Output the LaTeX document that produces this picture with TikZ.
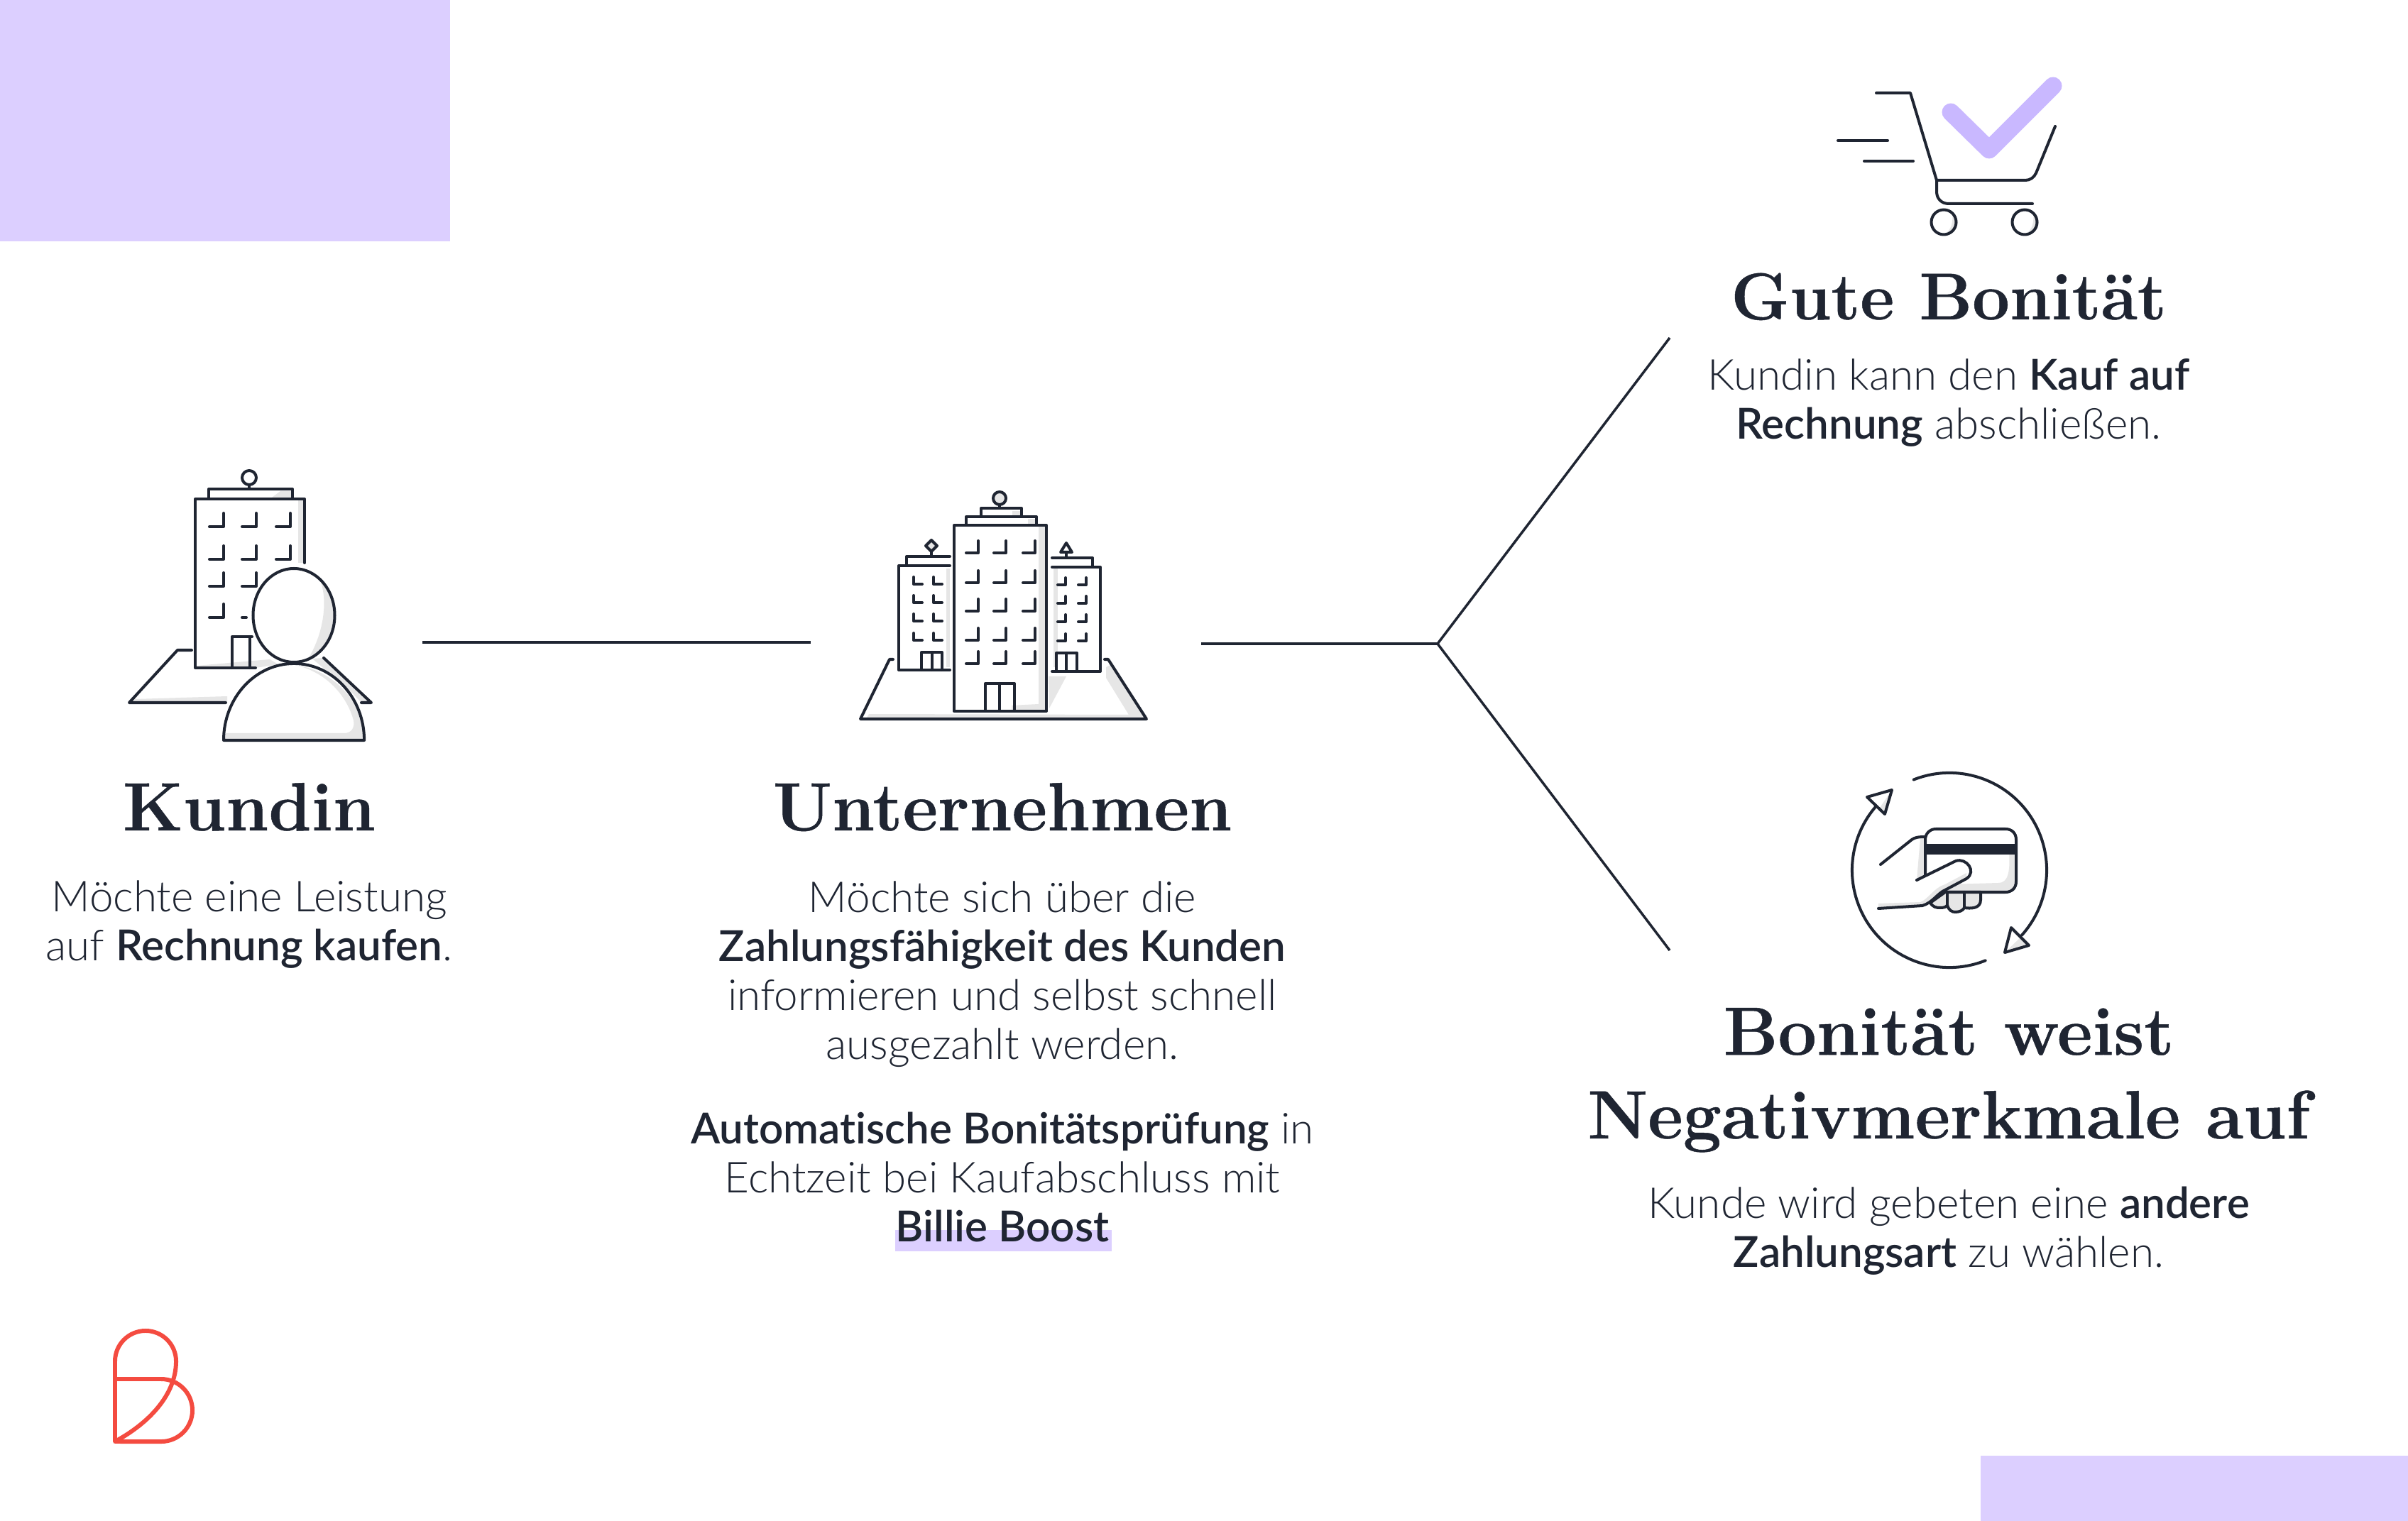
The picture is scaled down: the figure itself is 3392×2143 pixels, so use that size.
\documentclass[tikz,border=0pt]{standalone}
\usepackage{fontspec}
\newfontfamily\bodyfont{Lato}[UprightFont=* Light,BoldFont=* Semibold,Ligatures=NoCommon]
\newfontfamily\headfont{Latin Modern Roman}[BoldFeatures={FakeBold=0.5}]
\usetikzlibrary{positioning,calc}
\definecolor{inkdark}{HTML}{1F2532}
\definecolor{lilac}{HTML}{DCCFFF}
\definecolor{lilacdark}{HTML}{C9B8FF}
\definecolor{shadegray}{HTML}{E6E6E6}
\definecolor{logored}{HTML}{F44B40}

\begin{document}
\begin{tikzpicture}[
    x=0.01cm,
    y=-0.01cm,
    icon/.style={draw=inkdark, line width=1.14pt, line cap=round, line join=round},
    shade/.style={fill=shadegray},
    branch/.style={draw=inkdark, line width=1pt},
    headline/.style={text=inkdark, font=\headfont\fontsize{27.4}{33.5}\selectfont\bfseries, align=center, inner sep=0pt},
    bodytext/.style={text=inkdark, font=\bodyfont\fontsize{17.1}{19.65}\selectfont, align=center, inner sep=0pt},
    node distance=0.5cm
  ]
    \useasboundingbox (0,0) rectangle (3392,2143);
    \fill[white] (0,0) rectangle (3392,2143);

    \fill[lilac] (0,0) rectangle (634,340);
    \fill[lilac] (2790,2051) rectangle (3392,2143);
    \fill[lilac] (1261,1733) rectangle (1566,1763);

    % texts
    \node[headline, anchor=base] (kundin) at (351,1170) {Kundin};
    \node[bodytext, below=0.69cm of kundin] (kundintext) {Möchte eine Leistung\\auf \textbf{Rechnung kaufen}.};

    \node[headline, anchor=base] (firma) at (1412,1170) {Unternehmen};
    \node[bodytext, below=0.69cm of firma] (firmatext) {Möchte sich über die\\\textbf{Zahlungsfähigkeit des Kunden}\\informieren und selbst schnell\\ausgezahlt werden.};
    \node[bodytext, below=0.62cm of firmatext] (boost) {\textbf{Automatische Bonitätsprüfung} in\\Echtzeit bei Kaufabschluss mit\\\textbf{Billie Boost}};

    \node[headline, font=\headfont\fontsize{26.6}{33.5}\selectfont\bfseries, anchor=base] (gut) at (2745,450) {Gute Bonität};
    \node[bodytext, below=0.53cm of gut] (guttext) {Kundin kann den \textbf{Kauf auf}\\\textbf{Rechnung} abschließen.};

    \node[headline, anchor=base] (negativ) at (2745,1604) {Bonität weist\\Negativmerkmale auf};
    \node[bodytext, below=0.47cm of negativ] (negativtext) {Kunde wird gebeten eine \textbf{andere}\\\textbf{Zahlungsart} zu wählen.};

    % connectors
    \coordinate (kundinout) at (595,905);
    \coordinate (firmain) at (1142,905);
    \coordinate (firmaout) at (1692,907);
    \coordinate (split) at (2025,907);
    \coordinate (gutend) at (2352,476);
    \coordinate (negativend) at (2352,1339);
    \draw[branch] (kundinout) -- (firmain);
    \draw[branch] (firmaout) -- (split);
    \draw[branch] (gutend) -- (split) -- (negativend);

    % customer icon
    \fill[shade] (190,985) -- (320,981) -- (320,990) -- (182,990) -- cycle;
    \fill[shade] (440,928) -- (456,927) -- (523,990) -- (509,990) -- (495,975) -- cycle;
    \fill[shade] (420,703) rectangle (429,793);
    \fill[shade] (383,701) -- (395,692) -- (410,692) -- (410,701) -- cycle;
    \fill[shade] (277,938) -- (380,929) -- (392,936) -- (360,941) -- (277,941) -- cycle;
    \draw[icon] (270,916) -- (250,916) -- (182,990) -- (318,990);
    \draw[icon] (456,927) -- (523,990) -- (509,990);
    \draw[icon] (429,793) -- (429,703) -- (275,703) -- (275,941) -- (360,941);
    \draw[icon] (294,703) -- (294,689) -- (412,689) -- (412,703);
    \draw[icon] (351,683) -- (351,689);
    \draw[icon] (351,673) circle [radius=10];
    \foreach \wx/\wy in {315/742,361/742,409/742,315/788,361/788,409/788,315/826,361/826,315/870}
      \draw[icon] (\wx-20,\wy) -- (\wx,\wy) -- (\wx,\wy-19);
    \draw[icon] (341,870) -- (347,870);
    \draw[icon] (327,941) -- (327,897) -- (355,897);
    \draw[icon] (352,897) -- (352,941);
    \fill[white] (414,867) ellipse [x radius=57.5, y radius=66];
    \fill[shade] (452,820) .. controls (462,850) and (455,895) .. (433,930) .. controls (460,915) and (475,880) .. (470,850) .. controls (468,835) and (460,825) .. (452,820) -- cycle;
    \draw[icon] (414,867) ellipse [x radius=57.5, y radius=66];
    \fill[white] (315,1043) arc [start angle=180, end angle=0, x radius=0.99cm, y radius=1.08cm] -- cycle;
    \fill[shade] (318,1033) -- (485,1033) .. controls (495,1033) and (500,1025) .. (498,1015) .. controls (490,985) and (465,950) .. (420,938) .. controls (470,945) and (513,990) .. (513,1043) -- (315,1043) -- cycle;
    \draw[icon] (315,1043) arc [start angle=180, end angle=0, x radius=0.99cm, y radius=1.08cm] -- cycle;

    % company icon
    \fill[shade] (1558,940) -- (1566,936) -- (1615,1013) -- (1220,1013) -- (1224,1006) -- (1590,1007) -- (1558,955) -- cycle;
    \fill[shade] (1477,953) -- (1502,953) -- (1478,998) -- cycle;
    \draw[icon] (1258,929) -- (1253,929) -- (1212,1013) -- (1615,1013) -- (1561,929) -- (1556,929);
    \fill[shade] (1333,801) rectangle (1338,940);
    \fill[shade] (1484,801) rectangle (1490,940);
    \fill[shade] (1463,742) rectangle (1472,1000);
    \fill[shade] (1425,1000) -- (1425,994) -- (1463,992) -- (1463,1000) -- cycle;
    \fill[shade] (1426,720) -- (1437,720) -- (1437,726) -- (1426,726) -- cycle;
    \fill[shade] (1448,731) -- (1458,731) -- (1458,738) -- (1448,738) -- cycle;
    \draw[icon] (1338,797) -- (1266,797) -- (1266,944) -- (1338,944);
    \draw[icon] (1277,797) -- (1277,784) -- (1338,784);
    \draw[icon] (1312,777) -- (1312,784);
    \draw[icon, fill=shadegray] (1312,761) -- (1320,769) -- (1312,777) -- (1304,769) -- cycle;
    \foreach \wx in {1287,1315}
      \foreach \wy in {823,849,875,902}
        \draw[icon] (\wx,\wy-10) -- (\wx,\wy) -- (\wx+12,\wy);
    \draw[icon] (1298,944) -- (1298,919) -- (1327,919) -- (1327,944);
    \draw[icon] (1313,919) -- (1313,944);
    \draw[icon] (1482,799) -- (1550,799) -- (1550,946) -- (1482,946);
    \draw[icon] (1482,786) -- (1539,786) -- (1539,799);
    \draw[icon] (1502,778) -- (1502,786);
    \draw[icon, fill=white] (1502,765) -- (1510,778) -- (1494,778) -- cycle;
    \foreach \wx in {1501,1530}
      \foreach \wy in {824,850,876,903}
        \draw[icon] (\wx-11,\wy) -- (\wx,\wy) -- (\wx,\wy-10);
    \draw[icon] (1488,946) -- (1488,920) -- (1517,920) -- (1517,946);
    \draw[icon] (1502,920) -- (1502,946);
    \draw[icon] (1344,1002) -- (1344,740) -- (1474,740) -- (1474,1002) -- cycle;
    \draw[icon] (1361,740) -- (1361,728) -- (1460,728) -- (1460,740);
    \draw[icon] (1382,728) -- (1382,716) -- (1439,716) -- (1439,728);
    \draw[icon] (1408,711) -- (1408,716);
    \draw[icon, fill=shadegray] (1408,702) circle [radius=9];
    \foreach \wx in {1378,1417,1458}
      \foreach \wy in {779,821,861,902,935}
        \draw[icon] (\wx-17,\wy) -- (\wx,\wy) -- (\wx,\wy-17);
    \draw[icon] (1388,1002) -- (1388,963) -- (1429,963) -- (1429,1002);
    \draw[icon] (1408,963) -- (1408,1002);

    % cart icon
    \draw[line width=7.1pt, lilacdark, line cap=round, line join=round] (2748,158) -- (2802,211) -- (2892,121);
    \fill[shade] (2738,331) .. controls (2745,326) and (2752,320) .. (2750,300) .. controls (2765,315) and (2755,331) .. (2738,331) -- cycle;
    \fill[shade] (2852,331) .. controls (2859,326) and (2866,320) .. (2864,300) .. controls (2879,315) and (2869,331) .. (2852,331) -- cycle;
    \draw[icon] (2643,131) -- (2691,131) -- (2728,254);
    \draw[icon] (2728,254) -- (2853,254) .. controls (2860,254) and (2865,250) .. (2868,244) -- (2895,178);
    \draw[icon] (2728,254) -- (2728,270) .. controls (2728,280) and (2735,287) .. (2745,287) -- (2863,287);
    \draw[icon] (2738,313) circle [radius=17.5];
    \draw[icon] (2852,313) circle [radius=17.5];
    \draw[icon] (2589,198) -- (2659,198);
    \draw[icon] (2626,227) -- (2695,227);

    % card icon
    \coordinate (cardcenter) at (2746,1226);
    \draw[icon] ($(cardcenter)+(111.5:1.37cm)$) arc [start angle=111.5, end angle=-42, radius=1.37cm];
    \draw[icon] ($(cardcenter)+(-68.3:1.37cm)$) arc [start angle=-68.3, end angle=-220.7, radius=1.37cm];
    \fill[white] (2665,1113) -- (2630,1123) -- (2655,1147) -- cycle;
    \fill[white] (2833,1307) -- (2858,1332) -- (2824,1342) -- cycle;
    \fill[shade] (2655,1147) -- (2665,1113) -- (2648,1138) -- cycle;
    \fill[shade] (2824,1342) -- (2858,1332) -- (2845,1322) -- cycle;
    \draw[icon] (2665,1113) -- (2630,1123) -- (2655,1147) -- cycle;
    \draw[icon] (2833,1307) -- (2858,1332) -- (2824,1342) -- cycle;
    \fill[shade] (2705,1181) -- (2712,1181) -- (2712,1236) -- (2700,1240) -- cycle;
    \fill[shade] (2840,1200) -- (2840,1240) .. controls (2840,1250) and (2832,1257) .. (2822,1257) -- (2740,1257) -- (2745,1246) -- (2815,1244) .. controls (2828,1244) and (2832,1230) .. (2830,1200) -- cycle;
    \draw[icon] (2712,1233) -- (2712,1183) .. controls (2712,1174) and (2719,1168) .. (2727,1168) -- (2825,1168) .. controls (2834,1168) and (2840,1174) .. (2840,1183) -- (2840,1242) .. controls (2840,1251) and (2834,1257) .. (2825,1257) -- (2740,1257);
    \fill[inkdark] (2712,1189) rectangle (2840,1204);
    \draw[icon, fill=shadegray] (2719,1272) .. controls (2723,1278) and (2727,1279) .. (2733,1279) .. controls (2738,1279) and (2742,1278) .. (2743,1275) .. controls (2745,1283) and (2750,1285) .. (2754,1285) .. controls (2760,1285) and (2765,1283) .. (2767,1279) .. controls (2775,1280) and (2790,1281) .. (2790,1268) -- (2790,1257) -- (2740,1257) -- cycle;
    \draw[icon] (2743,1257) -- (2743,1275);
    \draw[icon] (2767,1257) -- (2767,1279);
    \fill[shade] (2646,1273) -- (2705,1271) .. controls (2715,1268) and (2725,1250) .. (2740,1246) -- (2770,1230) -- (2770,1237) -- (2740,1255) -- (2713,1275) -- (2690,1278) -- (2646,1280) -- cycle;
    \draw[icon] (2649,1218) -- (2693,1183) .. controls (2697,1180) and (2702,1179) .. (2712,1179);
    \draw[icon] (2700,1240) -- (2755,1213) .. controls (2770,1208) and (2785,1228) .. (2770,1238) -- (2740,1254) .. controls (2730,1258) and (2722,1272) .. (2708,1276) -- (2646,1280);

    % logo
    \draw[logored, line width=1.7pt, line join=round] (162,2031) -- (162,1918) arc [start angle=180, end angle=0, radius=0.43cm] .. controls (248,1965) and (210,2005) .. (162,2031) -- cycle;
    \draw[logored, line width=1.7pt, line join=round] (162,1943) -- (227,1943) arc [start angle=90, end angle=-90, radius=0.44cm] -- (162,2031);
  \end{tikzpicture}
\end{document}
